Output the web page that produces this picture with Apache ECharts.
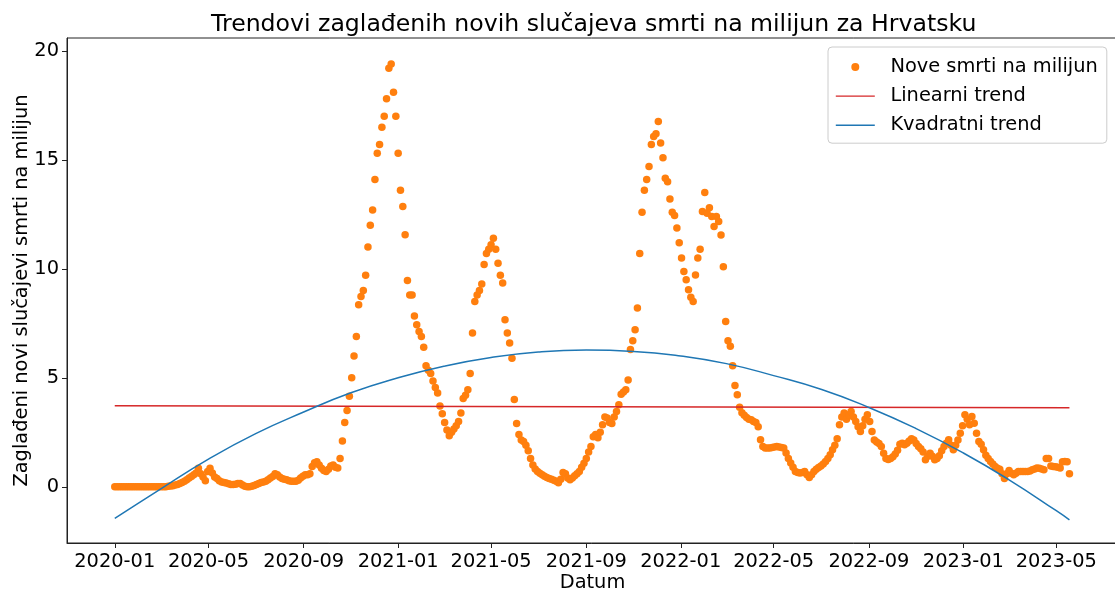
<!DOCTYPE html>
<html>
<head>
<meta charset="utf-8">
<script src="https://cdn.jsdelivr.net/npm/echarts@6/dist/echarts.min.js"></script>
<style>
  html, body { margin: 0; background: #fff; }
  #chart { width: 1115px; height: 591px; }
</style>
</head>
<body>
<div id="chart"></div>
<script>
// smoothed daily deaths per million, one value every 3 days from 2020-01-01
const startDate = '2020-01-01';
const stepDays = 3;
const deathsPerMillion = [
  0, 0, 0, 0, 0, 0, 0, 0, 0, 0,
  0, 0, 0, 0, 0, 0, 0, 0, 0, 0,
  0, 0, 0, 0.02, 0.03, 0.05, 0.08, 0.1, 0.15, 0.2,
  0.25, 0.32, 0.4, 0.47, 0.55, 0.63, 0.85, 0.6, 0.45, 0.28,
  0.7, 0.85, 0.63, 0.45, 0.38, 0.28, 0.22, 0.2, 0.17, 0.14,
  0.1, 0.1, 0.12, 0.15, 0.15, 0.08, 0.02, 0, 0, 0.02,
  0.06, 0.1, 0.15, 0.2, 0.22, 0.25, 0.32, 0.4, 0.47, 0.6,
  0.55, 0.45, 0.38, 0.35, 0.32, 0.28, 0.25, 0.25, 0.25, 0.3,
  0.4, 0.48, 0.55, 0.55, 0.6, 0.93, 1.1, 1.15, 1.0, 0.85,
  0.75, 0.7, 0.8, 0.95, 1.0, 0.9, 0.86, 1.3, 2.1, 2.95,
  3.5, 4.15, 5.0, 6.0, 6.9, 8.35, 8.73, 9.0, 9.7, 11.0,
  12.0, 12.7, 14.1, 15.3, 15.7, 16.5, 17.0, 17.8, 19.2, 19.4,
  18.1, 17.0, 15.3, 13.6, 12.86, 11.56, 9.46, 8.8, 8.8, 7.84,
  7.43, 7.12, 6.9, 6.4, 5.55, 5.35, 5.2, 4.85, 4.55, 4.3,
  3.7, 3.35, 2.95, 2.6, 2.34, 2.5, 2.65, 2.8, 3.0, 3.38,
  4.05, 4.2, 4.45, 5.2, 7.05, 8.5, 8.8, 9.0, 9.3, 10.2,
  10.7, 10.9, 11.1, 11.4, 10.9, 10.25, 9.7, 9.35, 7.66, 7.05,
  6.6, 5.9, 4.0, 2.9, 2.4, 2.15, 2.08, 1.9, 1.65, 1.3,
  1.0, 0.82, 0.7, 0.62, 0.55, 0.48, 0.42, 0.38, 0.34, 0.3,
  0.25, 0.18, 0.35, 0.65, 0.6, 0.4, 0.32, 0.4, 0.5, 0.6,
  0.7, 0.9, 1.08, 1.3, 1.6, 1.85, 2.3, 2.4, 2.25, 2.5,
  2.84, 3.2, 3.15, 2.95, 2.9, 3.2, 3.45, 3.76, 4.25, 4.35,
  4.45, 4.9, 6.3, 6.7, 7.2, 8.2, 10.7, 12.6, 13.6, 14.1,
  14.7, 15.7, 16.07, 16.2, 16.76, 15.77, 15.1, 14.16, 14.0, 13.2,
  12.6, 12.45, 11.87, 11.2, 10.5, 9.88, 9.5, 9.04, 8.7, 8.5,
  9.72, 10.5, 10.9, 12.63, 13.5, 12.55, 12.8, 12.4, 11.94, 12.4,
  12.17, 11.55, 10.1, 7.58, 6.7, 6.45, 5.55, 4.65, 4.22, 3.65,
  3.4, 3.28, 3.18, 3.1, 3.08, 3.0, 2.95, 2.75, 2.16, 1.85,
  1.78, 1.78, 1.78, 1.8, 1.82, 1.85, 1.82, 1.8, 1.78, 1.55,
  1.3, 1.09, 0.9, 0.7, 0.66, 0.63, 0.66, 0.7, 0.55, 0.42,
  0.55, 0.7, 0.8, 0.88, 0.95, 1.05, 1.16, 1.3, 1.47, 1.7,
  1.9, 2.2, 2.84, 3.2, 3.38, 3.1, 3.3, 3.45, 3.2, 3.0,
  2.75, 2.54, 2.8, 3.1, 3.3, 3.0, 2.54, 2.15, 2.05, 1.98,
  1.85, 1.54, 1.3, 1.25, 1.3, 1.38, 1.5, 1.68, 1.95, 2.0,
  1.93, 2.0, 2.1, 2.2, 2.15, 1.98, 1.85, 1.75, 1.6, 1.24,
  1.4, 1.54, 1.4, 1.24, 1.3, 1.42, 1.65, 1.85, 2.0, 2.16,
  1.9, 1.7, 1.9, 2.15, 2.46, 2.8, 3.3, 3.1, 2.85, 3.22,
  2.92, 2.46, 2.08, 1.95, 1.7, 1.45, 1.3, 1.16, 1.05, 0.93,
  0.85, 0.8, 0.6, 0.38, 0.6, 0.75, 0.62, 0.55, 0.62, 0.7,
  0.7, 0.7, 0.7, 0.7, 0.72, 0.78, 0.82, 0.86, 0.85, 0.82,
  0.78, 1.3, 1.3, 0.95, 0.93, 0.92, 0.9, 0.86, 1.15, 1.16,
  1.15, 0.6
];

// trend lines, read at day offsets from startDate
const linearTrendDays = [0, 1233];
const linearTrend = [3.72, 3.62];
const quadTrendDays = [0, 60, 121, 182, 244, 305, 366, 425, 486, 547, 609, 670,
  731, 790, 851, 913, 974, 1035, 1096, 1155, 1216, 1233];
const quadTrend = [-1.45, -0.08, 1.27, 2.44, 3.43, 4.31, 5.0, 5.53, 5.93, 6.18, 6.27, 6.21,
  6.0, 5.65, 5.1, 4.46, 3.64, 2.67, 1.55, 0.32, -1.1, -1.52];

const xTickLabels = ['2020-01', '2020-05', '2020-09', '2021-01', '2021-05', '2021-09',
  '2022-01', '2022-05', '2022-09', '2023-01', '2023-05'];
const yTicks = [0, 5, 10, 15, 20];

const DAY = 86400000;
const t0 = Date.parse(startDate + 'T00:00:00Z');
const dayToTime = d => t0 + d * DAY;
const monthToTime = s => Date.UTC(+s.slice(0, 4), +s.slice(5, 7) - 1, 1);
const xTicks = xTickLabels.map(monthToTime);

const scatterData = deathsPerMillion.map((v, i) => [dayToTime(i * stepDays), v]);
const linearData = linearTrendDays.map((d, i) => [dayToTime(d), linearTrend[i]]);
const quadData = quadTrendDays.map((d, i) => [dayToTime(d), quadTrend[i]]);

const font = 'DejaVu Sans';
const fs = 19.4;

const chart = echarts.init(document.getElementById('chart'));
chart.setOption({
  backgroundColor: '#fff',
  animation: false,
  textStyle: { fontFamily: font },
  title: {
    text: 'Trendovi zaglađenih novih slučajeva smrti na milijun za Hrvatsku',
    left: 211,
    top: 13,
    padding: 0,
    textStyle: { fontFamily: font, fontSize: 23.6, fontWeight: 'normal', color: '#000' }
  },
  legend: {
    orient: 'vertical',
    left: 828,
    top: 47,
    padding: [10.5, 9, 8.5, 7.8],
    itemWidth: 39,
    itemHeight: 8,
    itemGap: 10.1,
    backgroundColor: 'rgba(255,255,255,0.8)',
    borderColor: '#ccc',
    borderWidth: 1,
    borderRadius: 4,
    textStyle: { fontFamily: font, fontSize: fs, color: '#000', padding: [0, 0, 0, 10.6] },
    data: [
      { name: 'Nove smrti na milijun', icon: 'circle' },
      { name: 'Linearni trend', icon: 'path://M0,0H40V1.4H0Z' },
      { name: 'Kvadratni trend', icon: 'path://M0,0H40V1.4H0Z' }
    ]
  },
  grid: {
    left: 67,
    top: 38,
    width: 1051,
    height: 505,
    outerBoundsMode: 'none',
    containLabel: false,
    show: true,
    borderColor: '#222',
    borderWidth: 1
  },
  xAxis: {
    type: 'value',
    min: dayToTime(-61.7),
    max: dayToTime(1295.7),
    name: 'Datum',
    nameLocation: 'middle',
    nameGap: 30,
    nameMoveOverlap: false,
    nameTextStyle: { fontFamily: font, fontSize: fs, color: '#000' },
    axisLine: { show: true, onZero: false, lineStyle: { color: '#222', width: 1 } },
    axisTick: { show: true, length: 5, customValues: xTicks, lineStyle: { color: '#222' } },
    axisLabel: {
      customValues: xTicks,
      margin: 9,
      fontFamily: font,
      fontSize: fs,
      color: '#000',
      formatter: v => {
        const d = new Date(v);
        return d.getUTCFullYear() + '-' + String(d.getUTCMonth() + 1).padStart(2, '0');
      }
    },
    splitLine: { show: false }
  },
  yAxis: {
    type: 'value',
    min: -2.58,
    max: 20.59,
    name: 'Zaglađeni novi slučajevi smrti na milijun',
    nameLocation: 'middle',
    nameGap: 36,
    nameMoveOverlap: false,
    nameTextStyle: { fontFamily: font, fontSize: fs, color: '#000' },
    axisLine: { show: true, lineStyle: { color: '#222', width: 1 } },
    axisTick: { show: true, length: 5, customValues: yTicks, lineStyle: { color: '#222' } },
    axisLabel: { customValues: yTicks, margin: 8, fontFamily: font, fontSize: fs, color: '#000' },
    splitLine: { show: false }
  },
  series: [
    {
      name: 'Nove smrti na milijun',
      type: 'scatter',
      data: scatterData,
      symbolSize: 7.5,
      itemStyle: { color: '#ff7f0e', opacity: 1 }
    },
    {
      name: 'Linearni trend',
      type: 'line',
      data: linearData,
      showSymbol: false,
      symbol: 'none',
      color: '#d62728',
      lineStyle: { color: '#d62728', width: 1.5 }
    },
    {
      name: 'Kvadratni trend',
      type: 'line',
      data: quadData,
      smooth: true,
      showSymbol: false,
      symbol: 'none',
      color: '#1f77b4',
      lineStyle: { color: '#1f77b4', width: 1.5 }
    }
  ]
});
</script>
</body>
</html>
